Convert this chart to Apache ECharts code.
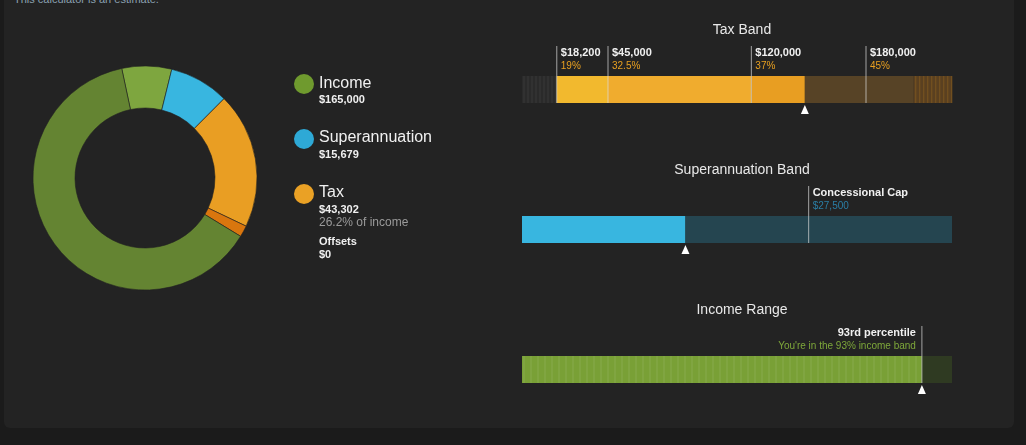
<!DOCTYPE html>
<html><head><meta charset="utf-8">
<script src="https://cdn.jsdelivr.net/npm/echarts@6/dist/echarts.min.js"></script>
<style>
html,body{margin:0;background:#1b1b1b;}
#panel{position:absolute;left:4px;top:-10px;width:1010px;height:438px;background:#232323;border-radius:6px;}
#note{position:absolute;left:14px;top:-7px;font:11px Arial,"Liberation Sans";color:#8aa0b0;}
#c{position:absolute;left:0;top:0;width:1026px;height:445px;}
</style></head><body>
<div id="panel"></div><div id="note">This calculator is an estimate.</div>
<div id="c"></div>
<script>
// donut slices (dollars)
var pieNames = ['Income (other)', 'Superannuation', 'Tax', 'Tax (Medicare)', 'Income'];
var pieValues = [13050, 15679, 35640, 3000, 114450];
var pieColors = ['#7ea63f', '#38b6e0', '#e99e23', '#d9760e', '#648432'];

// tax band
var taxEdges = [0, 18200, 45000, 120000, 148000, 205000, 225000];
var taxThresholds = [18200, 45000, 120000, 180000];
var taxRates = ['19%', '32.5%', '37%', '45%'];
var taxableIncome = 148000;

// super band
var superValue = 15679, superCap = 27500, superMax = 41250;

// income range
var incomePct = 93, incomeMax = 100;

var segStyles = {
  tax: [['#2a2a2a', 1], ['#f2b92e', 0], ['#f0ac2e', 0], ['#e89e22', 0], ['#574326', 0], ['#5a4020', 1]],
  sup: [['#38b6e0', 0], ['#254550', 0]],
  inc: [['#79a036', 2], ['#2f3a22', 0]]
};

var chart = echarts.init(document.getElementById('c'));
var gridTops = [76, 216, 356];
var maxes = [225000, superMax, incomeMax];

function segData(edges) {
  var out = [];
  for (var i = 0; i < edges.length - 1; i++) out.push([edges[i], edges[i + 1], i]);
  return out;
}

function segSeries(gi, key, edges) {
  return {
    type: 'custom', xAxisIndex: gi, yAxisIndex: gi, silent: true,
    data: segData(edges),
    renderItem: function (params, api) {
      var a = api.coord([api.value(0), 1]), b = api.coord([api.value(1), 0]);
      var st = segStyles[key][api.value(2)];
      var kids = [{ type: 'rect', shape: { x: a[0], y: a[1], width: b[0] - a[0], height: b[1] - a[1] }, style: { fill: st[0] } }];
      if (st[1]) {
        var step = st[1] == 1 ? 4 : 7;
        var col = st[1] == 1 ? (key == 'tax' && api.value(2) == 5 ? '#7a5520' : '#383838') : 'rgba(255,255,255,0.12)';
        for (var x = a[0] + 2; x < b[0]; x += step) {
          kids.push({ type: 'line', shape: { x1: x, y1: a[1], x2: x, y2: b[1] }, style: { stroke: col, lineWidth: 1 } });
        }
      }
      return { type: 'group', children: kids };
    }
  };
}

function lineSeries(gi, values, labels, alignRight) {
  return {
    type: 'custom', xAxisIndex: gi, yAxisIndex: gi, silent: true, clip: false,
    data: values.map(function (v, i) { return [v, i]; }),
    renderItem: function (params, api) {
      var p = api.coord([api.value(0), 1]), q = api.coord([api.value(0), 0]);
      var lb = labels[api.value(1)];
      return { type: 'group', children: [
        { type: 'line', shape: { x1: p[0], y1: p[1] - 30, x2: q[0], y2: q[1] }, style: { stroke: 'rgba(220,220,220,0.7)', lineWidth: 1 } },
        { type: 'text', x: alignRight ? p[0] - 6 : p[0] + 4, y: p[1] - 30, style: {
          text: '{a|' + lb[0] + '}\n{b|' + lb[1] + '}', align: alignRight ? 'right' : 'left', verticalAlign: 'top',
          rich: { a: { fill: '#f0f0f0', fontSize: 11, fontWeight: 'bold', fontFamily: 'Arial', lineHeight: 14 },
                  b: { fill: lb[2], fontSize: 10, fontFamily: 'Arial', lineHeight: 13 } } } }
      ] };
    }
  };
}

function markerSeries(gi, value) {
  return {
    type: 'custom', xAxisIndex: gi, yAxisIndex: gi, silent: true, clip: false, data: [[value]],
    renderItem: function (params, api) {
      var p = api.coord([api.value(0), 0]);
      return { type: 'polygon', shape: { points: [[p[0], p[1] + 2], [p[0] - 4, p[1] + 11], [p[0] + 4, p[1] + 11]] }, style: { fill: '#fff' } };
    }
  };
}

var fmt = function (v) { return '$' + v.toLocaleString('en-US'); };

var titleY = [18, 158, 298], titles = ['Tax Band', 'Superannuation Band', 'Income Range'];

chart.setOption({
  animation: false,
  title: titles.map(function (t, i) {
    return { text: t, left: 737, top: titleY[i], textAlign: 'center', textStyle: { color: '#e8e8e8', fontSize: 14, fontWeight: 'normal', fontFamily: 'Arial' } };
  }),
  grid: gridTops.map(function (t) { return { left: 522, width: 430, top: t, height: 27 }; }),
  xAxis: maxes.map(function (m, i) { return { type: 'value', gridIndex: i, min: 0, max: m, show: false }; }),
  yAxis: maxes.map(function (m, i) { return { type: 'value', gridIndex: i, min: 0, max: 1, show: false }; }),
  graphic: [
    { type: 'circle', shape: { cx: 304, cy: 84, r: 10 }, style: { fill: '#6f9a2e' } },
    { type: 'text', x: 319, y: 76, style: { text: 'Income', fill: '#f0f0f0', font: '16px Arial' } },
    { type: 'text', x: 319, y: 94, style: { text: fmt(165000), fill: '#f0f0f0', font: 'bold 11px Arial' } },
    { type: 'circle', shape: { cx: 304, cy: 139, r: 10 }, style: { fill: '#2ea9d6' } },
    { type: 'text', x: 319, y: 130, style: { text: 'Superannuation', fill: '#f0f0f0', font: '16px Arial' } },
    { type: 'text', x: 319, y: 149, style: { text: fmt(superValue), fill: '#f0f0f0', font: 'bold 11px Arial' } },
    { type: 'circle', shape: { cx: 304, cy: 194, r: 10 }, style: { fill: '#eaa125' } },
    { type: 'text', x: 319, y: 185, style: { text: 'Tax', fill: '#f0f0f0', font: '16px Arial' } },
    { type: 'text', x: 319, y: 204, style: { text: fmt(43302), fill: '#f0f0f0', font: 'bold 11px Arial' } },
    { type: 'text', x: 319, y: 217, style: { text: '26.2% of income', fill: '#9a9a9a', font: '12px Arial' } },
    { type: 'text', x: 319, y: 236, style: { text: 'Offsets', fill: '#f0f0f0', font: 'bold 11px Arial' } },
    { type: 'text', x: 319, y: 249, style: { text: '$0', fill: '#f0f0f0', font: 'bold 11px Arial' } }
  ],
  series: [
    { type: 'pie', center: [145, 178], radius: [70, 112], startAngle: 102, clockwise: true, silent: true,
      label: { show: false }, itemStyle: { borderColor: '#222', borderWidth: 0.6 },
      data: pieValues.map(function (v, i) { return { name: pieNames[i], value: v, itemStyle: { color: pieColors[i] } }; }) },
    segSeries(0, 'tax', taxEdges),
    lineSeries(0, taxThresholds, taxThresholds.map(function (t, i) { return [fmt(t), taxRates[i], '#e8a020']; })),
    markerSeries(0, taxableIncome),
    segSeries(1, 'sup', [0, superValue, superMax]),
    lineSeries(1, [superCap], [['Concessional Cap', fmt(superCap), '#2a7ea5']]),
    markerSeries(1, superValue),
    segSeries(2, 'inc', [0, incomePct, incomeMax]),
    lineSeries(2, [incomePct], [['93rd percentile', "You're in the 93% income band", '#7ea83a']], true),
    markerSeries(2, incomePct)
  ]
});
</script></body></html>
